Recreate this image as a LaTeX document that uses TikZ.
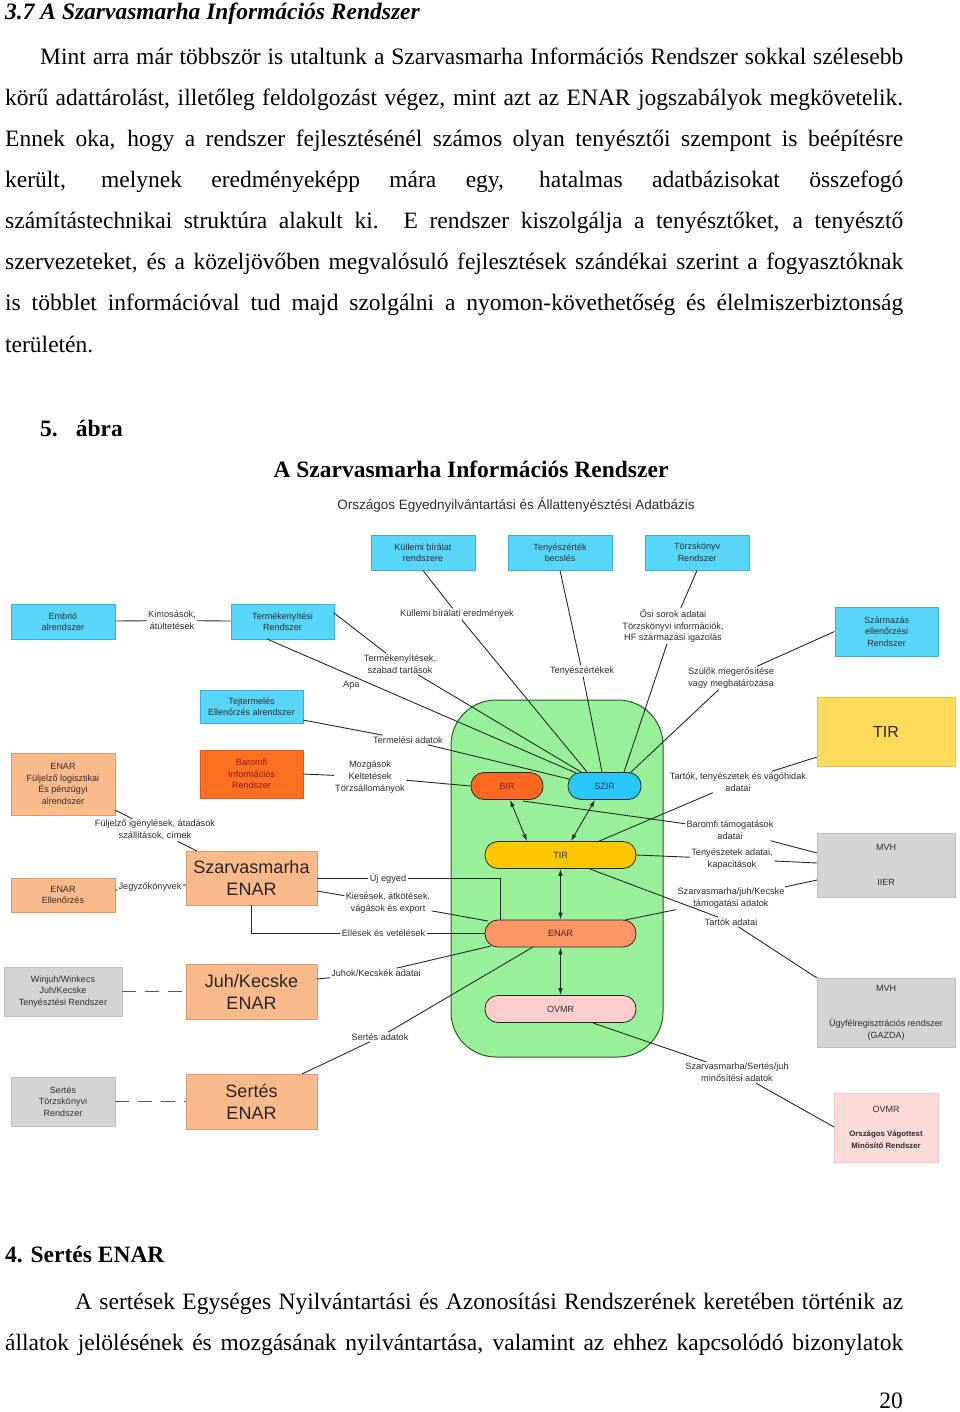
\documentclass[tikz,border=0pt]{standalone}
\usepackage{fontspec}
\setmainfont{Liberation Serif}
\newfontfamily\dsans{Liberation Sans}
\usetikzlibrary{arrows.meta}
\definecolor{txtg}{RGB}{45,45,45}
\definecolor{lineg}{RGB}{40,40,40}
\definecolor{cyanf}{RGB}{88,214,250}
\definecolor{cyand}{RGB}{60,175,225}
\definecolor{salf}{RGB}{251,186,140}
\definecolor{sald}{RGB}{225,150,105}
\definecolor{orf}{RGB}{255,112,34}
\definecolor{ord}{RGB}{225,90,20}
\definecolor{grayf}{RGB}{212,212,212}
\definecolor{grayd}{RGB}{190,190,190}
\definecolor{yelf}{RGB}{255,219,90}
\definecolor{yeld}{RGB}{230,195,70}
\definecolor{pinkf}{RGB}{252,220,218}
\definecolor{pinkd}{RGB}{238,200,200}
\definecolor{grnf}{RGB}{152,240,152}
\definecolor{grnd}{RGB}{35,95,35}
\definecolor{birf}{RGB}{255,104,32}
\definecolor{szirf}{RGB}{40,200,250}
\definecolor{tirf}{RGB}{255,200,0}
\definecolor{enarf}{RGB}{255,150,100}
\definecolor{ovmrf}{RGB}{255,205,205}
\definecolor{darkred}{RGB}{130,30,10}
\definecolor{darkblue}{RGB}{20,50,110}
\newcommand{\pline}[5]{\node[pagetext] (#1) at (#2,#3) {\makebox[#4pt][s]{#5}};}
\tikzset{
 pagetext/.style={anchor=base west, inner sep=0pt, font=\fontsize{23.5}{28}\selectfont},
 pagebold/.style={pagetext, font=\bfseries\fontsize{23.5}{28}\selectfont},
 dbox/.style={draw, line width=0.9pt, align=center, inner sep=1pt, text=txtg, font=\dsans\fontsize{9}{11.5}\selectfont},
 bluebox/.style={dbox, fill=cyanf, draw=cyand},
 salbox/.style={dbox, fill=salf, draw=sald},
 orbox/.style={dbox, fill=orf, draw=ord, text=darkred},
 graybox/.style={dbox, fill=grayf, draw=grayd},
 bigtext/.style={font=\dsans\fontsize{18}{22}\selectfont, text=black!85},
 pill/.style={draw=black!85, line width=0.8pt, rounded corners=13pt, minimum width=151pt, minimum height=27pt, inner sep=0pt, font=\dsans\fontsize{9}{11}\selectfont, text=txtg},
 lbl/.style={align=center, inner sep=1.2pt, text=txtg, font=\dsans\fontsize{9.2}{11.8}\selectfont},
 conn/.style={draw=lineg, line width=0.9pt},
 dbl/.style={conn, {Latex[length=7pt,width=4.5pt]}-{Latex[length=7pt,width=4.5pt]}},
 dashconn/.style={draw=black!65, line width=1.2pt, dash pattern=on 14pt off 9pt},
}
\begin{document}
\begin{tikzpicture}[x=1pt,y=-1pt]
\useasboundingbox (0,0) rectangle (960,1412);
% ---------- page text ----------
\node[pagetext, font=\bfseries\itshape\fontsize{23.5}{28}\selectfont] (head) at (5,20) {3.7 A Szarvasmarha Információs Rendszer};
\pline{p1}{40}{65}{863}{Mint arra már többször is utaltunk a Szarvasmarha Információs Rendszer sokkal szélesebb}
\pline{p2}{5}{106}{898}{körű adattárolást, illetőleg feldolgozást végez, mint azt az ENAR jogszabályok megkövetelik.}
\pline{p3}{5}{147}{898}{Ennek oka, hogy a rendszer fejlesztésénél számos olyan tenyésztői szempont is beépítésre}
\pline{p4}{5}{188}{898}{került, melynek eredményeképp mára egy, hatalmas adatbázisokat összefogó}
\pline{p5}{5}{229}{898}{számítástechnikai struktúra alakult ki. E rendszer kiszolgálja a tenyésztőket, a tenyésztő}
\pline{p6}{5}{270}{898}{szervezeteket, és a közeljövőben megvalósuló fejlesztések szándékai szerint a fogyasztóknak}
\pline{p7}{5}{311}{898}{is többlet információval tud majd szolgálni a nyomon-követhetőség és élelmiszerbiztonság}
\node[pagetext] (p8) at (5,352) {területén.};
\node[pagebold] (abra) at (40,436) {5.\hspace{18pt}ábra};
\node[pagebold, anchor=base] (ftitle) at (471,477) {A Szarvasmarha Információs Rendszer};
\node[pagebold] (sect4) at (5,1262) {4. Sertés ENAR};
\pline{q1}{75}{1309}{828}{A sertések Egységes Nyilvántartási és Azonosítási Rendszerének keretében történik az}
\pline{q2}{5}{1350}{898}{állatok jelölésének és mozgásának nyilvántartása, valamint az ehhez kapcsolódó bizonylatok}
\node[pagetext, anchor=base east] (pnum) at (903,1408) {20};
% ---------- diagram ----------
\node[lbl, font=\dsans\fontsize{13.5}{16}\selectfont] (dtitle) at (516,505) {Országos Egyednyilvántartási és Állattenyésztési Adatbázis};
\node[draw=grnd, fill=grnf, line width=1pt, rounded corners=45pt, minimum width=212pt, minimum height=357pt] (green) at (557,878.5) {};
% blue boxes
\node[bluebox, minimum width=104pt, minimum height=35pt] (kul) at (423,552.5) {Küllemi bírálat\\rendszere};
\node[bluebox, minimum width=104pt, minimum height=35pt] (teny) at (560,552.5) {Tenyészérték\\becslés};
\node[bluebox, minimum width=104pt, minimum height=35pt] (torzs) at (697,552.5) {Törzskönyv\\Rendszer};
\node[bluebox, minimum width=104pt, minimum height=35pt] (embr) at (63,621.5) {Embrió\\alrendszer};
\node[bluebox, minimum width=103pt, minimum height=35pt] (term) at (282.5,621.5) {Termékenyítési\\Rendszer};
\node[bluebox, minimum width=103pt, minimum height=49pt] (szarm) at (886.5,631.5) {Származás\\ellenőrzési\\Rendszer};
\node[bluebox, minimum width=103pt, minimum height=33pt] (tej) at (251.5,706.5) {Tejtermelés\\Ellenőrzés alrendszer};
% orange boxes
\node[salbox, minimum width=104pt, minimum height=62pt] (fulj) at (63,784) {ENAR\\Füljelző logisztikai\\És pénzügyi\\alrendszer};
\node[orbox, minimum width=103pt, minimum height=48pt] (barom) at (251.5,774) {Baromfi\\Információs\\Rendszer};
\node[salbox, bigtext, minimum width=131pt, minimum height=54pt] (szenar) at (251.5,878) {Szarvasmarha\\ENAR};
\node[salbox, minimum width=104pt, minimum height=34pt] (enarell) at (63,895) {ENAR\\Ellenőrzés};
\node[salbox, bigtext, minimum width=131pt, minimum height=55pt] (juhenar) at (251.5,991.5) {Juh/Kecske\\ENAR};
\node[salbox, bigtext, minimum width=131pt, minimum height=55pt] (sertenar) at (251.5,1101.5) {Sertés\\ENAR};
% gray boxes
\node[graybox, minimum width=118pt, minimum height=49pt] (winjuh) at (63,991.5) {Winjuh/Winkecs\\Juh/Kecske\\Tenyésztési Rendszer};
\node[graybox, minimum width=104pt, minimum height=49pt] (sertorzs) at (63,1101.5) {Sertés\\Törzskönyvi\\Rendszer};
\node[graybox, minimum width=138pt, minimum height=64pt] (mvha) at (886,865) {MVH\\[24pt]IIER};
\node[graybox, minimum width=138pt, minimum height=69pt] (mvhb) at (886,1012.5) {MVH\\[24pt]Ügyfélregisztrációs rendszer\\(GAZDA)};
% right boxes
\node[dbox, fill=yelf, draw=yeld, minimum width=138pt, minimum height=69pt, font=\dsans\fontsize{16}{19}\selectfont, text=black!85] (tirbox) at (886,731.5) {TIR};
\node[dbox, fill=pinkf, draw=pinkd, minimum width=104pt, minimum height=69pt] (ovmrbox) at (886,1127.5) {OVMR\\[12pt]\textbf{\fontsize{7.8}{10}\selectfont Országos Vágottest}\\[1pt]\textbf{\fontsize{7.8}{10}\selectfont Minősítő Rendszer}};
% pills
\node[pill, fill=birf, minimum width=72pt, text=darkred] (bir) at (507,786) {BIR};
\node[pill, fill=szirf, minimum width=73pt, text=darkblue] (szir) at (604.5,786) {SZIR};
\node[pill, fill=tirf] (tirp) at (560.5,855) {TIR};
\node[pill, fill=enarf] (enarp) at (560.5,933.5) {ENAR};
\node[pill, fill=ovmrf] (ovmrp) at (560.5,1009) {OVMR};
% arrows
\draw[dbl] ([xshift=3pt]bir.south) -- ([xshift=-33.5pt]tirp.north);
\draw[dbl] ([xshift=-9.5pt]szir.south) -- ([xshift=10.5pt]tirp.north);
\draw[dbl] (tirp.south) -- (enarp.north);
\draw[dbl] (enarp.south) -- (ovmrp.north);
% attach points
\coordinate (szA) at (587,772);
\coordinate (szB) at (576,773);
\coordinate (szC) at (581,772);
\coordinate (szD) at (569,779);
\coordinate (szE) at (602,772);
\coordinate (szF) at (624,772);
\coordinate (szG) at (630,773);
\coordinate (term1) at (334,613);
\coordinate (term2) at (267,639);
\coordinate (tej1) at (303,720);
\coordinate (fulj1) at (115,810);
\coordinate (szen1) at (197,851);
\coordinate (enarell1) at (115,890);
\coordinate (szen2) at (186,885);
\coordinate (uj1) at (500,878);
\coordinate (uj2) at (500,920);
\coordinate (kies0) at (317,891);
\coordinate (enar1) at (488,921);
\coordinate (ell1) at (251.5,933.5);
\coordinate (juh0) at (317,979);
\coordinate (enar2) at (491,946);
\coordinate (sert0) at (302,1074);
\coordinate (enar3) at (533,947);
\coordinate (tirb1) at (817,757);
\coordinate (tirp1) at (597,842);
\coordinate (bir1) at (523,801);
\coordinate (mvha1) at (817,853);
\coordinate (mvha2) at (817,863);
\coordinate (enar4) at (625,920);
\coordinate (mvha3) at (817,880);
\coordinate (tirp2) at (590,869);
\coordinate (mvhb1) at (817,978);
\coordinate (ovmr1) at (593,1023);
\coordinate (ovmrb1) at (834,1127);
% labels
\node[lbl] (lkim) at (172,620.5) {Kimosások,\\átültetések};
\node[lbl] (lkul) at (457,614) {Küllemi bírálati eredmények};
\node[lbl] (lteny) at (582,671) {Tenyészértékek};
\node[lbl] (losi) at (673,626) {Ősi sorok adatai\\Törzskönyvi információk,\\HF származási igazolás};
\node[lbl] (lszul) at (731,678) {Szülők megerősítése\\vagy meghatározása};
\node[lbl] (lterm) at (400,664) {Termékenyítések,\\szabad tartások};
\node[lbl] (ltej) at (408,740) {Termelési adatok};
\node[lbl] (lmoz) at (370,777) {Mozgások\\Keltetések\\Törzsállományok};
\node[lbl] (lful) at (155,830) {Füljelző igénylések, átadások\\szállítások, címek};
\node[lbl] (ljegy) at (150,887) {Jegyzőkönyvek};
\node[lbl] (luj) at (388,878) {Új egyed};
\node[lbl] (lkies) at (388,903) {Kiesések, átkötések,\\vágások és export};
\node[lbl] (lell) at (383.5,933.5) {Ellések és vetélések};
\node[lbl] (ljuh) at (376,973) {Juhok/Kecskék adatai};
\node[lbl] (lsert) at (380,1037) {Sertés adatok};
\node[lbl] (ltart) at (738,782) {Tartók, tenyészetek és vágóhidak\\adatai};
\node[lbl] (lbar) at (730,830) {Baromfi támogatások\\adatai};
\node[lbl] (ltenyad) at (732,859) {Tenyészetek adatai,\\kapacitások};
\node[lbl] (lszt) at (731,898.5) {Szarvasmarha/juh/Kecske\\támogatási adatok};
\node[lbl] (ltartok) at (731,922) {Tartók adatai};
\node[lbl] (lovmr) at (737,1072.5) {Szarvasmarha/Sertés/juh\\minősítési adatok};
% connectors
\draw[conn] (embr) -- (lkim) -- (term);
\draw[conn] (kul.south) -- (lkul) -- (szA);
\draw[conn] (teny.south) -- (lteny) -- (szE);
\draw[conn] (torzs.south) -- (losi) -- (szF);
\draw[conn] (szarm.west) -- (lszul) -- (szG);
\draw[conn] (term1) -- (lterm) -- (szC);
\draw[conn] (term2) -- (szB) node[lbl, pos=0.305, anchor=north east] (lapa) {Apa};
\draw[conn] (tej1) -- (ltej) -- (szD);
\draw[conn] (barom.east) -- (lmoz) -- (bir.west);
\draw[conn] (fulj1) -- (lful) -- (szen1);
\draw[conn] (enarell1) -- (ljegy) -- (szen2);
\draw[conn] (szenar.east) -- (luj) -- (uj1) -- (uj2);
\draw[conn] (kies0) -- (lkies) -- (enar1);
\draw[conn] (szenar.south) -- (ell1) -- (lell) -- (enarp.west);
\draw[conn] (juh0) -- (ljuh) -- (enar2);
\draw[conn] (sert0) -- (lsert) -- (enar3);
\draw[dashconn] (winjuh.east) -- (juhenar.west);
\draw[dashconn] (sertorzs.east) -- (sertenar.west);
\draw[conn] (tirb1) -- (ltart) -- (tirp1);
\draw[conn] (bir1) -- (lbar) -- (mvha1);
\draw[conn] (tirp.east) -- (ltenyad) -- (mvha2);
\draw[conn] (enar4) -- (lszt) -- (mvha3);
\draw[conn] (tirp2) -- (ltartok) -- (mvhb1);
\draw[conn] (ovmr1) -- (lovmr) -- (ovmrb1);
\end{tikzpicture}
\end{document}
